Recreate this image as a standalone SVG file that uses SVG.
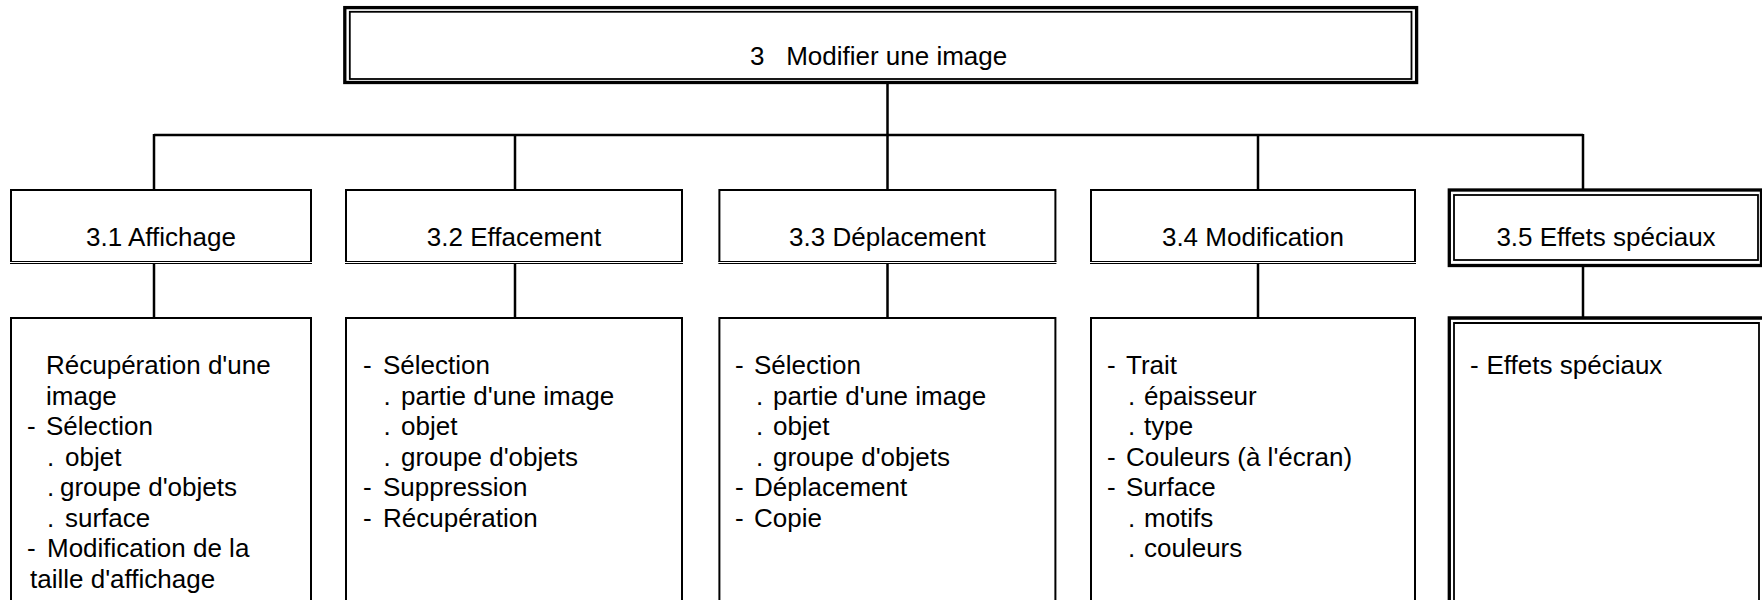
<svg xmlns="http://www.w3.org/2000/svg" width="1762" height="600" viewBox="0 0 1762 600">
<style>
text{font-family:"Liberation Sans",Arial,sans-serif;font-size:26px;fill:#000}
.c{text-anchor:middle}
.b{fill:none;stroke:#000;stroke-width:2}
.bt{fill:none;stroke:#000;stroke-width:1}
.o{fill:none;stroke:#000;stroke-width:3.3}
.i{fill:none;stroke:#000;stroke-width:1.8}
.ln{fill:none;stroke:#000;stroke-width:2.5}
</style>
<rect width="1762" height="600" fill="#fff"/>
<g id="connectors">
<path class="ln" d="M887.5 84V135M154 135H1583M154 134V190M515 135V190M887.5 135V190M1258 135V190M1583 134V190"/>
<path class="ln" d="M154 263V318M515 263V318M887.5 263V318M1258 263V318M1583 265V318"/>
</g>
<g id="n3">
<rect class="o" x="344.8" y="7.6" width="1071.8" height="74.9"/>
<rect class="i" x="349.8" y="11.8" width="1061.7" height="67.2"/>
<text x="750" y="65" xml:space="preserve">3   Modifier une image</text>
</g>
<g id="n31">
<path class="b" d="M11 262V190H311V262"/>
<path class="bt" d="M10 261.5H312M10 263.5H312"/>
<text class="c" x="161" y="246">3.1 Affichage</text>
</g>
<g id="n32">
<path class="b" d="M346 262V190H682V262"/>
<path class="bt" d="M345 261.5H683M345 263.5H683"/>
<text class="c" x="514" y="246">3.2 Effacement</text>
</g>
<g id="n33">
<path class="b" d="M719.4 262V190H1055.4V262"/>
<path class="bt" d="M718.4 261.5H1056.4M718.4 263.5H1056.4"/>
<text class="c" x="887.4" y="246">3.3 Déplacement</text>
</g>
<g id="n34">
<path class="b" d="M1091 262V190H1415V262"/>
<path class="bt" d="M1090 261.5H1416M1090 263.5H1416"/>
<text class="c" x="1253" y="246">3.4 Modification</text>
</g>
<g id="n35">
<rect class="o" x="1449.3" y="190" width="312.2" height="75.5"/>
<rect class="i" x="1454" y="195" width="304" height="65"/>
<text class="c" x="1606" y="246">3.5 Effets spéciaux</text>
</g>
<g id="d31">
<path class="b" d="M11 601V318H311V601"/>
<text x="46" y="374">Récupération d'une</text>
<text x="46" y="404.5">image</text>
<text x="27" y="435" xml:space="preserve">- <tspan x="46">Sélection</tspan></text>
<text x="47" y="465.5" xml:space="preserve">. <tspan x="65">objet</tspan></text>
<text x="47" y="496" xml:space="preserve">. <tspan x="60">groupe d'objets</tspan></text>
<text x="47" y="526.5" xml:space="preserve">. <tspan x="65">surface</tspan></text>
<text x="27" y="557" xml:space="preserve">- <tspan x="47">Modification de la</tspan></text>
<text x="30" y="587.5">taille d'affichage</text>
</g>
<g id="d32">
<path class="b" d="M346 601V318H682V601"/>
<text x="363" y="374" xml:space="preserve">- <tspan x="383">Sélection</tspan></text>
<text x="383.5" y="404.5" xml:space="preserve">. <tspan x="401">partie d'une image</tspan></text>
<text x="383.5" y="435" xml:space="preserve">. <tspan x="401">objet</tspan></text>
<text x="383.5" y="465.5" xml:space="preserve">. <tspan x="401">groupe d'objets</tspan></text>
<text x="363" y="496" xml:space="preserve">- <tspan x="383">Suppression</tspan></text>
<text x="363" y="526.5" xml:space="preserve">- <tspan x="383">Récupération</tspan></text>
</g>
<g id="d33">
<path class="b" d="M719.4 601V318H1055.4V601"/>
<text x="735" y="374" xml:space="preserve">- <tspan x="754">Sélection</tspan></text>
<text x="756" y="404.5" xml:space="preserve">. <tspan x="773">partie d'une image</tspan></text>
<text x="756" y="435" xml:space="preserve">. <tspan x="773">objet</tspan></text>
<text x="756" y="465.5" xml:space="preserve">. <tspan x="773">groupe d'objets</tspan></text>
<text x="735" y="496" xml:space="preserve">- <tspan x="754">Déplacement</tspan></text>
<text x="735" y="526.5" xml:space="preserve">- <tspan x="754">Copie</tspan></text>
</g>
<g id="d34">
<path class="b" d="M1091 601V318H1415V601"/>
<text x="1107" y="374" xml:space="preserve">- <tspan x="1126">Trait</tspan></text>
<text x="1128" y="404.5" xml:space="preserve">. <tspan x="1144">épaisseur</tspan></text>
<text x="1128" y="435" xml:space="preserve">. <tspan x="1144">type</tspan></text>
<text x="1107" y="465.5" xml:space="preserve">- <tspan x="1126">Couleurs (à l'écran)</tspan></text>
<text x="1107" y="496" xml:space="preserve">- <tspan x="1126">Surface</tspan></text>
<text x="1128" y="526.5" xml:space="preserve">. <tspan x="1144">motifs</tspan></text>
<text x="1128" y="557" xml:space="preserve">. <tspan x="1144">couleurs</tspan></text>
</g>
<g id="d35">
<path class="o" d="M1449.3 602V318H1763"/>
<path class="i" d="M1454 602V323H1759V602"/>
<text x="1470" y="374" xml:space="preserve">- <tspan x="1486.5">Effets spéciaux</tspan></text>
</g>
</svg>
